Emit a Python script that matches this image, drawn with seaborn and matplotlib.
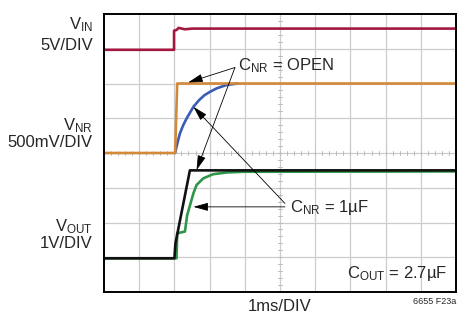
import matplotlib.pyplot as plt
import seaborn as sns
import numpy as np

sns.set_style("white")
plt.rcParams['font.family'] = ['Liberation Sans Narrow', 'Liberation Sans', 'DejaVu Sans']
plt.rcParams['mathtext.fontset'] = 'custom'
plt.rcParams['mathtext.rm'] = 'Liberation Sans'
plt.rcParams['mathtext.it'] = 'Liberation Sans'

# traces in scope divisions (x: 10 div, y: 8 div)
vin_x = [0, 1.99, 1.99, 2.06, 2.12, 2.3, 2.5, 10]
vin_y = [6.97, 6.97, 7.52, 7.54, 7.6, 7.56, 7.58, 7.58]
vnr_open_x = [0, 2.02, 2.08, 10]
vnr_open_y = [4.0, 4.0, 6.0, 6.0]
vnr_1u_x = [2.02, 2.1, 2.16, 2.25, 2.35, 2.54, 2.7, 2.85, 3.01, 3.2, 3.49, 3.8]
vnr_1u_y = [4.0, 4.35, 4.57, 4.8, 5.0, 5.33, 5.52, 5.66, 5.76, 5.86, 5.96, 6.0]
vout_1u_x = [0, 2.06, 2.08, 2.3, 2.36, 2.54, 2.63, 2.82, 3.1, 3.49, 3.96, 10]
vout_1u_y = [0.97, 0.97, 1.69, 1.74, 2.2, 2.84, 3.08, 3.27, 3.39, 3.44, 3.46, 3.47]
vout_open_x = [0, 2.0, 2.03, 2.44, 10]
vout_open_y = [0.97, 0.97, 1.4, 3.5, 3.5]

fig = plt.figure(figsize=(4.6, 3.21), dpi=100)
ax = fig.add_axes([104/460, 29/321, 352/460, 278/321])

for i in range(1, 10):
    ax.axvline(i, color="#cccccc", lw=0.9, zorder=0)
for j in range(1, 8):
    ax.axhline(j, color="#cccccc", lw=0.9, zorder=0)
# minor ticks on the center lines
for t in np.arange(0.2, 10, 0.2):
    ax.plot([t, t], [3.93, 4.07], color="#bbbbbb", lw=0.7, zorder=0)
for t in np.arange(0.2, 8, 0.2):
    ax.plot([4.94, 5.06], [t, t], color="#bbbbbb", lw=0.7, zorder=0)

kw = dict(sort=False, estimator=None, ax=ax, legend=False)
sns.lineplot(x=vin_x, y=vin_y, color="#a3183f", lw=1.9, **kw)
sns.lineplot(x=vnr_1u_x, y=vnr_1u_y, color="#3b5cb5", lw=1.9, **kw)
sns.lineplot(x=vnr_open_x, y=vnr_open_y, color="#d2893a", lw=1.9, **kw)
sns.lineplot(x=vout_1u_x, y=vout_1u_y, color="#2e9648", lw=1.9, **kw)
sns.lineplot(x=vout_open_x, y=vout_open_y, color="#111111", lw=1.9, **kw)

ax.set_xlim(0, 10)
ax.set_ylim(0, 8)
ax.set_xticks([])
ax.set_yticks([])
for s in ax.spines.values():
    s.set_color("black")
    s.set_linewidth(1.4)

fs = 12
aprops = dict(arrowstyle="-|>,head_length=0.9,head_width=0.25", color="black",
              lw=0.6, shrinkA=0, shrinkB=0, mutation_scale=10)
ax.text(3.81, 6.37, r"$\mathrm{C_{NR}}$ = OPEN", fontsize=fs, va="baseline", ha="left")
ax.annotate("", xy=(2.39, 6.03), xytext=(3.72, 6.46), arrowprops=aprops)
ax.annotate("", xy=(2.63, 3.51), xytext=(3.72, 6.46), arrowprops=aprops)
ax.text(5.28, 2.31, r"$\mathrm{C_{NR}}$ = 1µF", fontsize=fs, va="baseline", ha="left")
ax.annotate("", xy=(2.54, 5.33), xytext=(5.14, 2.55), arrowprops=aprops)
ax.annotate("", xy=(2.54, 2.45), xytext=(5.14, 2.45), arrowprops=aprops)
ax.text(9.74, 0.39, r"$\mathrm{C_{OUT}}$ = 2.7µF", fontsize=fs, va="baseline", ha="right")

lx = 93/460
fig.text(lx, 1 - 29/321, r"$\mathrm{V_{IN}}$", fontsize=fs, ha="right", va="baseline")
fig.text(lx, 1 - 50/321, "5V/DIV", fontsize=fs, ha="right", va="baseline")
fig.text(lx, 1 - 130/321, r"$\mathrm{V_{NR}}$", fontsize=fs, ha="right", va="baseline")
fig.text(lx, 1 - 147/321, "500mV/DIV", fontsize=fs, ha="right", va="baseline")
fig.text(lx, 1 - 231/321, r"$\mathrm{V_{OUT}}$", fontsize=fs, ha="right", va="baseline")
fig.text(lx, 1 - 248/321, "1V/DIV", fontsize=fs, ha="right", va="baseline")
fig.text(280/460, 1 - 311/321, "1ms/DIV", fontsize=fs, ha="center", va="baseline")
fig.text(456/460, 1 - 304/321, "6655 F23a", fontsize=6.5, ha="right", va="baseline")

fig.savefig("out.png", dpi=100)
